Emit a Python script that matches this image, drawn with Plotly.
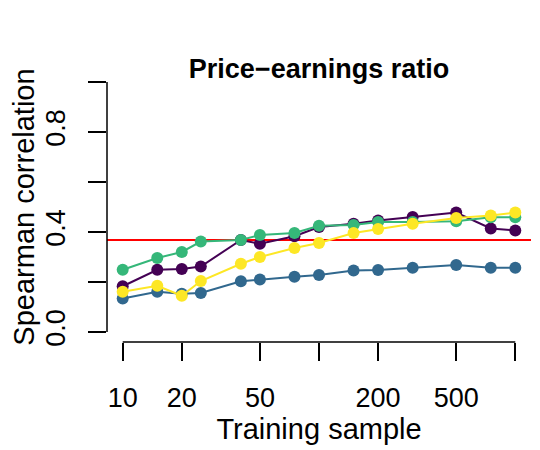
import plotly.graph_objects as go

# Data
training_sample = [10, 15, 20, 25, 40, 50, 75, 100, 150, 200, 300, 500, 750, 1000]
series_purple = [0.183, 0.249, 0.252, 0.262, 0.368, 0.353, 0.383, 0.420, 0.433, 0.446, 0.460, 0.478, 0.414, 0.406]
series_blue = [0.134, 0.161, 0.153, 0.156, 0.203, 0.210, 0.221, 0.228, 0.246, 0.248, 0.257, 0.268, 0.257, 0.257]
series_green = [0.249, 0.296, 0.320, 0.362, 0.368, 0.388, 0.396, 0.425, 0.428, 0.440, 0.440, 0.443, 0.459, 0.459]
series_yellow = [0.161, 0.185, 0.145, 0.204, 0.273, 0.300, 0.336, 0.356, 0.396, 0.412, 0.433, 0.456, 0.466, 0.478]
reference_level = 0.368

x_tickvals = [10, 20, 50, 100, 200, 500, 1000]
x_ticktext = ["10", "20", "50", "", "200", "500", ""]
y_tickvals = [0, 0.2, 0.4, 0.6, 0.8, 1.0]
y_ticktext = ["0.0", "", "0.4", "", "0.8", ""]

colors = ["#440154", "#31688E", "#35B779", "#FDE725"]
all_series = [series_purple, series_blue, series_green, series_yellow]

FONT = "Liberation Sans, Arial, Helvetica, sans-serif"
TICK_FS = 27
LAB_FS = 29
MAIN_FS = 27

# page body has an 8px margin; compensate so the plot lands where the reference has it
OFF = 8
L, R_, T, B = 107 - OFF, 540 - 531 + OFF, 72 - OFF, 450 - 342 + OFF

X_LOG_RANGE = [0.92, 3.08]


def xfrac(v):
    import math
    return (math.log10(v) - X_LOG_RANGE[0]) / (X_LOG_RANGE[1] - X_LOG_RANGE[0])


fig = go.Figure()
for vals, c in zip(all_series, colors):
    fig.add_trace(go.Scatter(
        x=training_sample, y=vals, mode="lines+markers",
        line=dict(color=c, width=2),
        marker=dict(color=c, size=12),
        showlegend=False, cliponaxis=False,
    ))

fig.add_shape(type="line", xref="paper", yref="y", x0=0, x1=1,
              y0=reference_level, y1=reference_level,
              line=dict(color="#FF0000", width=2), layer="below")
# R-style detached axis lines spanning only the tick range
fig.add_shape(type="line", xref="paper", yref="y", x0=0, x1=0,
              y0=y_tickvals[0], y1=y_tickvals[-1],
              line=dict(color="black", width=1.5))
fig.add_shape(type="line", xref="paper", yref="paper",
              x0=xfrac(x_tickvals[0]), x1=xfrac(x_tickvals[-1]), y0=0, y1=0,
              line=dict(color="black", width=1.5))

fig.update_layout(
    width=540, height=450,
    margin=dict(l=L, r=R_, t=T, b=B, autoexpand=False),
    paper_bgcolor="white", plot_bgcolor="white",
    font=dict(family=FONT, size=TICK_FS, color="black"),
    title=dict(text="<b>Price\u2212earnings ratio</b>", x=(L + 540 - R_) / 2 / 540,
               xanchor="center", y=1 - (69 - OFF) / 450, yanchor="middle",
               yref="container", font=dict(size=MAIN_FS, family=FONT)),
    xaxis=dict(type="log", range=X_LOG_RANGE, tickvals=x_tickvals,
               ticktext=x_ticktext, ticks="outside", ticklen=18, tickwidth=1.5,
               tickcolor="black", showgrid=False, zeroline=False, showline=False,
               ticklabelstandoff=14,
               title=dict(text="Training sample", standoff=2, font=dict(size=LAB_FS))),
    yaxis=dict(range=[-0.04, 1.04], tickvals=y_tickvals, ticktext=y_ticktext,
               ticks="outside", ticklen=18, tickwidth=1.5, tickcolor="black",
               tickangle=-90, showgrid=False, zeroline=False, showline=False,
               ticklabelstandoff=12,
               title=dict(text="Spearman correlation", standoff=4, font=dict(size=LAB_FS))),
)

fig.write_html("out.html")
